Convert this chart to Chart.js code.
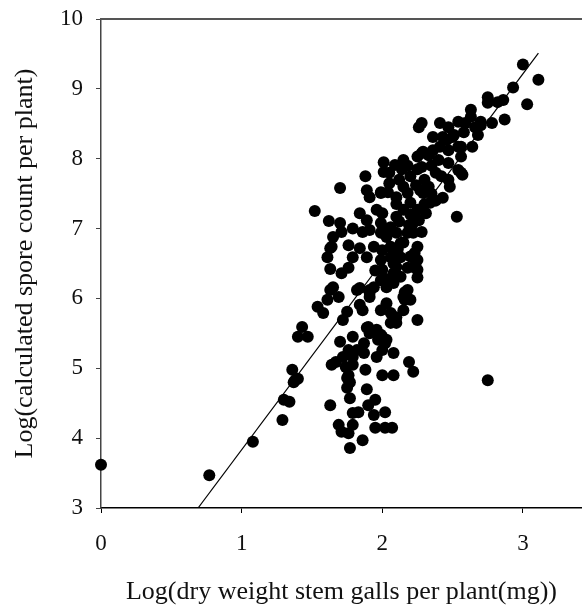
<!DOCTYPE html>
<html>
<head>
<meta charset="utf-8">
<script src="https://cdn.jsdelivr.net/npm/chart.js@4.4.1/dist/chart.umd.min.js"></script>
<style>
  html, body { margin: 0; padding: 0; background: #fff; }
  #wrap { width: 582px; height: 610px; }
</style>
</head>
<body>
<div id="wrap"><canvas id="chart" width="582" height="610"></canvas></div>
<script>
// log10 gall dry weight (mg) per plant
const gallLog = [
  0.00, 0.77, 1.08, 1.29, 1.30, 1.34, 1.37, 1.40, 1.36, 2.75,
  1.63, 1.69, 1.71, 1.76, 1.79, 1.79, 1.83, 1.77, 1.77, 1.86, 1.90, 1.95, 1.94, 2.02, 1.95, 2.02, 2.07,
  1.89, 1.75, 1.77, 1.75, 1.76, 1.88, 2.00, 2.08, 2.19, 2.22, 1.64, 1.67, 1.74, 1.79, 1.72, 1.79,
  1.76, 1.82, 1.87, 1.96, 2.00, 2.08, 1.70, 1.79, 1.87, 1.91, 1.97, 2.02, 1.89, 1.99, 2.03,
  1.43, 1.40, 1.47, 1.38,
  1.72, 1.75, 1.84, 1.82, 1.84, 1.86, 1.91, 1.91, 1.90, 1.96, 2.00, 1.99, 2.03, 2.06, 2.10, 2.15,
  2.16, 2.16, 2.25, 2.06, 2.10, 1.54, 1.58, 1.61, 1.69, 1.63, 1.65, 1.71, 1.76, 1.63, 1.61, 1.63,
  1.65, 1.64, 1.76, 1.84, 1.79, 1.89, 1.94, 1.99, 2.03, 2.06, 2.10, 2.18, 2.13, 2.00, 1.99, 2.06,
  2.13, 2.00, 2.08, 2.13, 2.18, 2.22, 1.94, 2.03, 1.91, 2.18, 2.15, 2.20, 1.99, 2.08, 2.06, 2.25,
  2.25, 2.23, 2.25, 2.22,
  1.52, 1.62, 1.70, 1.71, 1.84, 1.79, 1.86, 1.91, 1.89, 1.99, 2.22, 1.96, 2.00, 2.10, 2.15, 2.20,
  2.25, 1.91, 1.99, 2.10, 2.18, 2.29, 2.34, 2.31, 2.26, 2.27, 2.43, 2.53, 1.70, 1.88, 1.89, 1.99,
  2.01, 2.01, 2.09, 2.15, 2.26, 2.28, 2.36, 2.41, 2.46, 2.51, 2.56, 2.56, 2.48, 2.29, 2.25, 2.41,
  2.47, 2.54, 2.59, 2.66, 2.43, 2.50, 2.36, 2.47, 2.54, 2.28, 2.40, 2.47, 2.54, 2.57, 2.28, 2.38,
  2.47, 2.33, 2.58, 2.64, 2.56, 2.68,
  3.00, 3.11, 3.03, 2.93, 2.86, 2.87, 2.82, 2.75, 2.75, 2.78, 2.70, 2.63, 2.63, 2.70,
  2.05, 2.12, 2.20, 2.25, 2.30, 2.35, 2.15, 2.10, 2.20, 2.30, 2.05, 2.18, 2.33, 2.35, 2.42, 2.38,
  2.12, 2.05, 2.15, 2.08, 2.20, 1.95, 2.10, 2.25,
  2.04, 2.14, 2.24, 2.19, 2.28, 2.11, 2.02
];

// log10 calculated spore count per plant
const sporeLog = [
  3.62, 3.47, 3.95, 4.26, 4.55, 4.52, 4.80, 4.85, 4.98, 4.83,
  4.47, 4.19, 4.09, 4.07, 4.19, 4.36, 4.37, 4.57, 3.86, 3.97, 4.47, 4.55, 4.33, 4.37, 4.15, 4.15, 4.15,
  4.70, 4.72, 4.80, 4.86, 4.90, 4.98, 4.90, 4.90, 5.09, 4.95, 5.05, 5.09, 5.02, 5.05, 5.16, 5.16,
  5.26, 5.26, 5.22, 5.16, 5.26, 5.22, 5.38, 5.45, 5.36, 5.50, 5.41, 5.36, 5.58, 5.48, 5.41,
  5.59, 5.45, 5.45, 4.83,
  5.69, 5.81, 6.15, 6.12, 5.91, 5.83, 6.12, 6.02, 5.59, 5.55, 5.45, 5.83, 5.93, 5.79, 5.73, 5.83,
  5.98, 6.09, 5.69, 5.65, 5.65, 5.88, 5.79, 5.98, 6.02, 6.12, 6.16, 6.36, 6.44, 6.42, 6.59, 6.72,
  6.88, 6.74, 6.76, 6.72, 6.59, 6.59, 6.74, 6.94, 6.88, 7.02, 6.94, 6.94, 6.79, 6.69, 6.55, 6.59,
  6.59, 6.41, 6.36, 6.31, 6.44, 6.45, 6.16, 6.16, 6.08, 6.12, 6.02, 5.98, 6.26, 6.22, 6.74, 6.74,
  6.55, 6.65, 6.41, 6.94,
  7.25, 7.11, 7.08, 6.95, 7.22, 7.00, 6.95, 6.98, 7.12, 7.08, 7.08, 7.27, 7.22, 7.17, 7.27, 7.37,
  7.27, 7.45, 7.51, 7.45, 7.51, 7.51, 7.37, 7.22, 7.12, 7.55, 7.44, 7.17, 7.58, 7.75, 7.55, 7.52,
  7.95, 7.81, 7.91, 7.98, 8.45, 8.51, 8.31, 8.17, 8.27, 8.34, 8.03, 7.80, 7.60, 8.10, 8.03, 8.51,
  8.45, 8.53, 8.51, 8.45, 8.31, 8.31, 8.12, 8.12, 8.17, 8.08, 7.98, 7.94, 7.84, 7.77, 7.88, 7.80,
  7.70, 7.60, 8.38, 8.17, 8.17, 8.34,
  9.35, 9.13, 8.78, 9.02, 8.84, 8.56, 8.81, 8.88, 8.80, 8.51, 8.53, 8.70, 8.60, 8.48,
  7.65, 7.70, 7.75, 7.85, 7.70, 7.50, 7.60, 7.35, 7.20, 7.35, 7.80, 7.90, 8.05, 7.90, 7.75, 7.40,
  7.10, 7.00, 6.80, 6.50, 6.60, 6.40, 6.45, 6.30,
  7.52, 7.85, 7.62, 7.05, 6.95, 6.70, 6.28
];

// fitted regression line, end points
const fitX = [0.69, 3.11];
const fitY = [3.00, 9.51];

const xTicks = [0, 1, 2, 3];
const yTicks = [3, 4, 5, 6, 7, 8, 9, 10];

const serif = "'Liberation Serif', 'Times New Roman', serif";
const keepTicks = list => scale => {
  scale.ticks = list.map(v => ({ value: v }));
};

// grey frame line along the top of the plot area
const topFrame = {
  id: "topFrame",
  afterDraw(chart) {
    const { ctx, chartArea } = chart;
    ctx.save();
    ctx.strokeStyle = "#555";
    ctx.lineWidth = 2;
    ctx.beginPath();
    ctx.moveTo(chartArea.left - 1, chartArea.top);
    ctx.lineTo(chart.width, chartArea.top);
    ctx.stroke();
    ctx.restore();
  },
};

const ctx = document.getElementById("chart").getContext("2d");
const chart = new Chart(ctx, {
  type: "scatter",
  data: {
    datasets: [
      {
        data: gallLog.map((x, i) => ({ x: x, y: sporeLog[i] })),
        backgroundColor: "#000",
        borderWidth: 0,
        pointRadius: 6,
        pointHoverRadius: 6,
        clip: false,
      },
      {
        type: "line",
        data: fitX.map((x, i) => ({ x: x, y: fitY[i] })),
        borderColor: "#000",
        borderWidth: 1.2,
        pointRadius: 0,
        fill: false,
      },
    ],
  },
  plugins: [topFrame],
  options: {
    responsive: false,
    animation: false,
    layout: { padding: { top: 19, right: 0, bottom: 0, left: 0 }, autoPadding: false },
    plugins: {
      legend: { display: false },
      tooltip: { enabled: false },
    },
    scales: {
      x: {
        type: "linear",
        position: "bottom",
        min: 0,
        max: 3.42,
        afterBuildTicks: keepTicks(xTicks),
        ticks: { font: { family: serif, size: 23 }, color: "#111", padding: 17 },
        grid: { drawOnChartArea: false, tickLength: 5, color: "#000" },
        border: { color: "#000", width: 1.5 },
        title: {
          display: true,
          text: "Log(dry weight stem galls per plant(mg))",
          font: { family: serif, size: 26 },
          color: "#111",
          padding: { top: 0, bottom: 2 },
        },
        afterFit: s => { s.height = 102; },
      },
      y: {
        min: 3,
        max: 10,
        afterBuildTicks: keepTicks(yTicks),
        ticks: { font: { family: serif, size: 23 }, color: "#111", padding: 13 },
        grid: { drawOnChartArea: false, tickLength: 5, color: "#444" },
        border: { color: "#444", width: 1.5 },
        title: {
          display: true,
          text: "Log(calculated spore count per plant)",
          font: { family: serif, size: 26 },
          color: "#111",
          padding: { top: 10, bottom: 0 },
        },
        afterFit: s => {
          s.width = 101;
          s.paddingTop = 12;
          s.paddingBottom = 12;
        },
      },
    },
  },
});
</script>
</body>
</html>
